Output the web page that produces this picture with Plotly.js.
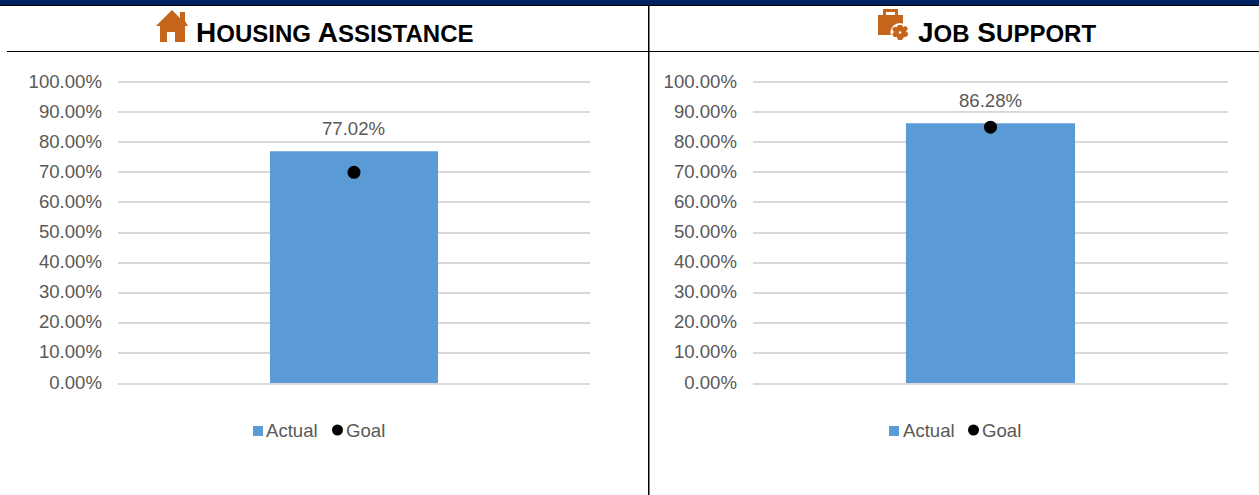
<!DOCTYPE html>
<html><head><meta charset="utf-8">
<script src="https://cdn.plot.ly/plotly-3.0.1.min.js"></script>
<style>html,body{margin:0;padding:0;background:#fff}#c{width:1259px;height:495px}</style>
</head><body><div id="c"></div>
<script>
const W=1259,H=495;
const categories=['Q'];
const housingActual=[77.02];
const housingGoal=[70];
const jobActual=[86.28];
const jobGoal=[85];
const tickValues=[0,10,20,30,40,50,60,70,80,90,100];
const tickLabels=tickValues.map(v=>v.toFixed(2)+'%');
const seriesNames=['Actual','Goal'];
const BLUE='#5B9BD5',GREY='#595959',ICON='#C5651B';
const FF='"Liberation Sans", Arial, sans-serif';
const FS=18.6;
const px=x=>x/W, py=y=>1-y/H;
function bar(y,xa,ya){return {type:'bar',x:categories,y:y,xaxis:xa,yaxis:ya,name:seriesNames[0],width:0.356,
  marker:{color:BLUE,line:{width:0}},hoverinfo:'skip'};}
function goal(y,xa,ya){return {type:'scatter',mode:'markers',x:categories,y:y,xaxis:xa,yaxis:ya,name:seriesNames[1],
  marker:{color:'#000',size:13,line:{width:0}},cliponaxis:false,hoverinfo:'skip'};}
const data=[bar(housingActual,'x','y'),goal(housingGoal,'x','y'),
            bar(jobActual,'x2','y2'),goal(jobGoal,'x2','y2')];
const yax=(anchor)=>({domain:[py(383),py(79)],range:[0,101],tickvals:tickValues,ticktext:tickLabels,anchor:anchor,ticklabelstandoff:15,ticklabelshift:-1,
  tickfont:{family:FF,size:FS,color:GREY},gridcolor:'#D9D9D9',gridwidth:2,zeroline:false,showline:false,ticks:'',automargin:false});
const xax=(d,anchor)=>({domain:d,anchor:anchor,type:'category',range:[-0.5,0.5],showticklabels:false,showgrid:false,zeroline:false,showline:true,linecolor:'#D9D9D9',linewidth:2,ticks:''});
function line(x0,y0,x1,y1,c,w){return {type:'line',xref:'paper',yref:'paper',x0:px(x0),y0:py(y0),x1:px(x1),y1:py(y1),line:{color:c,width:w},layer:'above'};}
function icon(path,fill){return {type:'path',xref:'paper',yref:'paper',path:path,fillcolor:fill,line:{width:0},layer:'above'};}
function poly(pts){return 'M'+pts.map(c=>px(c[0]).toFixed(5)+','+py(c[1]).toFixed(5)).join('L')+'Z';}
function circle(cx,cy,r,fill){return {type:'circle',xref:'paper',yref:'paper',x0:px(cx-r),x1:px(cx+r),y0:py(cy-r),y1:py(cy+r),fillcolor:fill,line:{width:0},layer:'above'};}
const house=poly([[156,26],[172,10],[180,18],[180,12],[185,12],[185,21],[188,26],[185,26],[185,42],[175,42],[175,32],[167,32],[167,42],[160,42],[160,26]]);
const caseBody=poly([[878,15],[883,15],[883,9],[898,9],[898,15],[903,15],[903,35],[878,35]]);
const caseHole=poly([[886,12],[895,12],[895,15],[886,15]]);
const gear=poly([[898,25],[902,25],[903,27],[906,26],[908,29],[906,31],[908,33],[908,35],[906,37],[904,37],[902,40],[898,40],[897,37],[894,37],[892,34],[894,32],[892,29],[894,27],[897,27]]);
function legendItems(x,dx){return [
  {xref:'paper',yref:'paper',x:px(x+11+dx),xanchor:'left',y:py(430),yanchor:'middle',text:seriesNames[0],showarrow:false,font:{family:FF,size:FS,color:GREY}},
  {xref:'paper',yref:'paper',x:px(x+91),xanchor:'left',y:py(430),yanchor:'middle',text:seriesNames[1],showarrow:false,font:{family:FF,size:FS,color:GREY}}];}
function legendMarks(x){return [
  {type:'rect',xref:'paper',yref:'paper',x0:px(x),x1:px(x+10),y0:py(436),y1:py(426),fillcolor:BLUE,line:{width:0},layer:'above'},
  circle(x+84.5,430,5.5,'#000')];}
function valueLabel(cat,v,xa,ya,dx){return {xref:xa,yref:ya,x:cat,y:v,yanchor:'middle',yshift:23,xshift:dx,text:v.toFixed(2)+'%',showarrow:false,font:{family:FF,size:FS,color:GREY}};}
function titleAnn(x,text){return {xref:'paper',yref:'paper',x:px(x),xanchor:'left',y:py(30),yanchor:'middle',text:text,showarrow:false,font:{family:FF,size:34.5,color:'#000',weight:700,variant:'small-caps'}};}
const cap=s=>'<span style="font-size:28px">'+s+'</span>';
const layout={width:W,height:H,margin:{l:0,r:0,t:0,b:0},paper_bgcolor:'#fff',plot_bgcolor:'#fff',showlegend:false,barmode:'overlay',
  xaxis:xax([px(118),px(590)],'y'),yaxis:yax('x'),
  xaxis2:xax([px(753),px(1228)],'y2'),yaxis2:yax('x2'),
  shapes:[
    {type:'rect',xref:'paper',yref:'paper',x0:0,x1:1,y0:py(5),y1:1,fillcolor:'#002060',line:{width:0},layer:'above'},
    line(0,5.5,W,5.5,'#000',1),
    line(7,51.5,W,51.5,'#000',1),
    line(648.75,5,648.75,H,'#000',1.5),
    icon(house,ICON),icon(caseBody,ICON),icon(caseHole,'#fff'),
    circle(900,32.5,9.5,'#fff'),icon(gear,ICON),circle(900,32.5,1.2,'#fff'),
    ...legendMarks(253),...legendMarks(889)
  ],
  annotations:[
    titleAnn(194,cap('H')+'ousing'+cap(' A')+'ssistance'),
    titleAnn(916,cap('J')+'ob'+cap(' S')+'upport'),
    valueLabel(categories[0],housingActual[0],'x','y',-1),
    valueLabel(categories[0],jobActual[0],'x2','y2',0),
    ...legendItems(253,0),...legendItems(889,1)
  ]};
Plotly.newPlot('c',data,layout,{displayModeBar:false,staticPlot:true});
</script></body></html>
